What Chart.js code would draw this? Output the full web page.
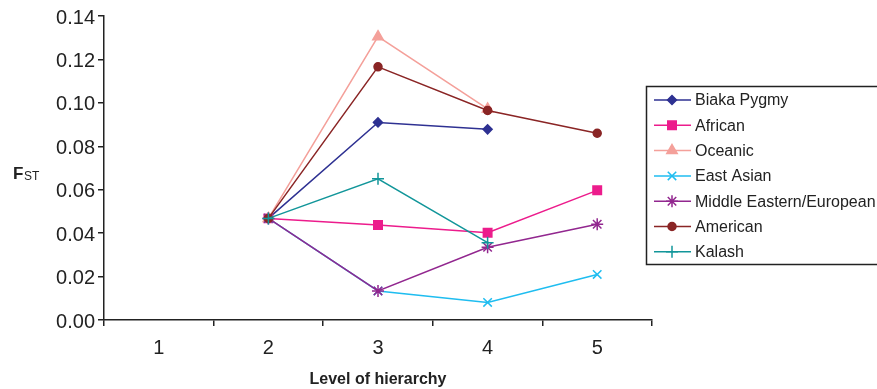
<!DOCTYPE html>
<html>
<head>
<meta charset="utf-8">
<script src="https://cdn.jsdelivr.net/npm/chart.js@4/dist/chart.umd.min.js"></script>
<style>
html,body{margin:0;padding:0;background:#fff;}
#wrap{width:877px;height:389px;position:relative;}
</style>
</head>
<body>
<div id="wrap"><canvas id="c" width="877" height="389"></canvas></div>
<script>
const categories = ["1", "2", "3", "4", "5"];
const seriesNames = ["Biaka Pygmy", "African", "Oceanic", "East Asian", "Middle Eastern/European", "American", "Kalash"];
const biaka    = [null, 0.0468, 0.0910, 0.0878, null];
const african  = [null, 0.0468, 0.0437, 0.0402, 0.0597];
const oceanic  = [null, 0.0468, 0.1305, 0.0972, null];
const eastAsian= [null, 0.0468, 0.0134, 0.0081, 0.0210];
const midEast  = [null, 0.0468, 0.0134, 0.0335, 0.0441];
const american = [null, 0.0468, 0.1166, 0.0965, 0.0860];
const kalash   = [null, 0.0468, 0.0650, 0.0356, null];
const yTicks = [0, 0.02, 0.04, 0.06, 0.08, 0.10, 0.12, 0.14];

const seriesData = [biaka, african, oceanic, eastAsian, midEast, american, kalash];
const colors = ["#2e3192", "#ec1c8c", "#f4a09a", "#1fbdf0", "#92278f", "#8a2525", "#12969a"];
const styles = ["rectRot", "rect", "triangle", "crossRot", "star", "circle", "cross"];
const radii = [4.5, 6, 6, 6, 6, 4, 6];

const datasets = seriesNames.map((n, i) => ({
  label: n,
  data: seriesData[i],
  borderColor: colors[i],
  backgroundColor: colors[i],
  pointStyle: styles[i],
  pointRadius: radii[i],
  pointBorderWidth: 1.5,
  borderWidth: 1.5,
  spanGaps: false,
  order: seriesNames.length - i
}));

const legendPlugin = {
  id: 'boxLegend',
  afterDraw(chart) {
    const ctx = chart.ctx;
    ctx.save();
    ctx.strokeStyle = '#222';
    ctx.lineWidth = 1.5;
    ctx.strokeRect(646.5, 86.5, 240, 178);
    ctx.font = '16px "Liberation Sans", Arial, sans-serif';
    ctx.textBaseline = 'middle';
    ctx.textAlign = 'left';
    seriesNames.forEach((n, i) => {
      const y = 100 + i * 25.3;
      ctx.strokeStyle = colors[i];
      ctx.fillStyle = colors[i];
      ctx.lineWidth = 1.5;
      ctx.beginPath();
      ctx.moveTo(654, y);
      ctx.lineTo(691, y);
      ctx.stroke();
      Chart.helpers.drawPoint(ctx, {pointStyle: styles[i], radius: radii[i], rotation: 0, borderWidth: 1.5}, 672, y);
      ctx.fillStyle = '#222';
      ctx.fillText(n, 695, y + 1);
    });
    // Y axis title F_ST
    ctx.fillStyle = '#222';
    ctx.font = 'bold 17px "Liberation Sans", Arial, sans-serif';
    ctx.textBaseline = 'alphabetic';
    ctx.fillText('F', 13, 179);
    ctx.font = '12px "Liberation Sans", Arial, sans-serif';
    ctx.fillText('ST', 24, 180);
    ctx.restore();
  }
};

new Chart(document.getElementById('c'), {
  type: 'line',
  data: { labels: categories, datasets },
  plugins: [legendPlugin],
  options: {
    responsive: false,
    animation: false,
    events: [],
    layout: { padding: { left: 0, right: 225, top: 16, bottom: 0 } },
    plugins: { legend: { display: false }, tooltip: { enabled: false } },
    scales: {
      x: {
        type: 'category',
        offset: true,
        border: { display: true, color: '#222', width: 1.5 },
        grid: { display: true, drawOnChartArea: false, offset: true, tickLength: 6, color: '#222', lineWidth: 1.5 },
        ticks: { color: '#222', font: { size: 20, family: '"Liberation Sans", Arial, sans-serif' }, padding: 10 },
        title: { display: true, text: 'Level of hierarchy', color: '#222', font: { size: 16, weight: 'bold', family: '"Liberation Sans", Arial, sans-serif' }, padding: { top: 0, bottom: 0 } },
        afterFit(s) { s.height = 69; }
      },
      y: {
        min: 0, max: 0.14,
        border: { display: true, color: '#222', width: 1.5 },
        grid: { display: true, drawOnChartArea: false, tickLength: 6, color: '#222', lineWidth: 1.5 },
        afterBuildTicks(s) { s.ticks = yTicks.map(v => ({ value: v })); },
        ticks: { color: '#222', font: { size: 20, family: '"Liberation Sans", Arial, sans-serif' }, padding: 3, labelOffset: 2, callback: v => Number(v).toFixed(2) },
        afterFit(s) { s.width = 104; }
      }
    }
  }
});
</script>
</body>
</html>
